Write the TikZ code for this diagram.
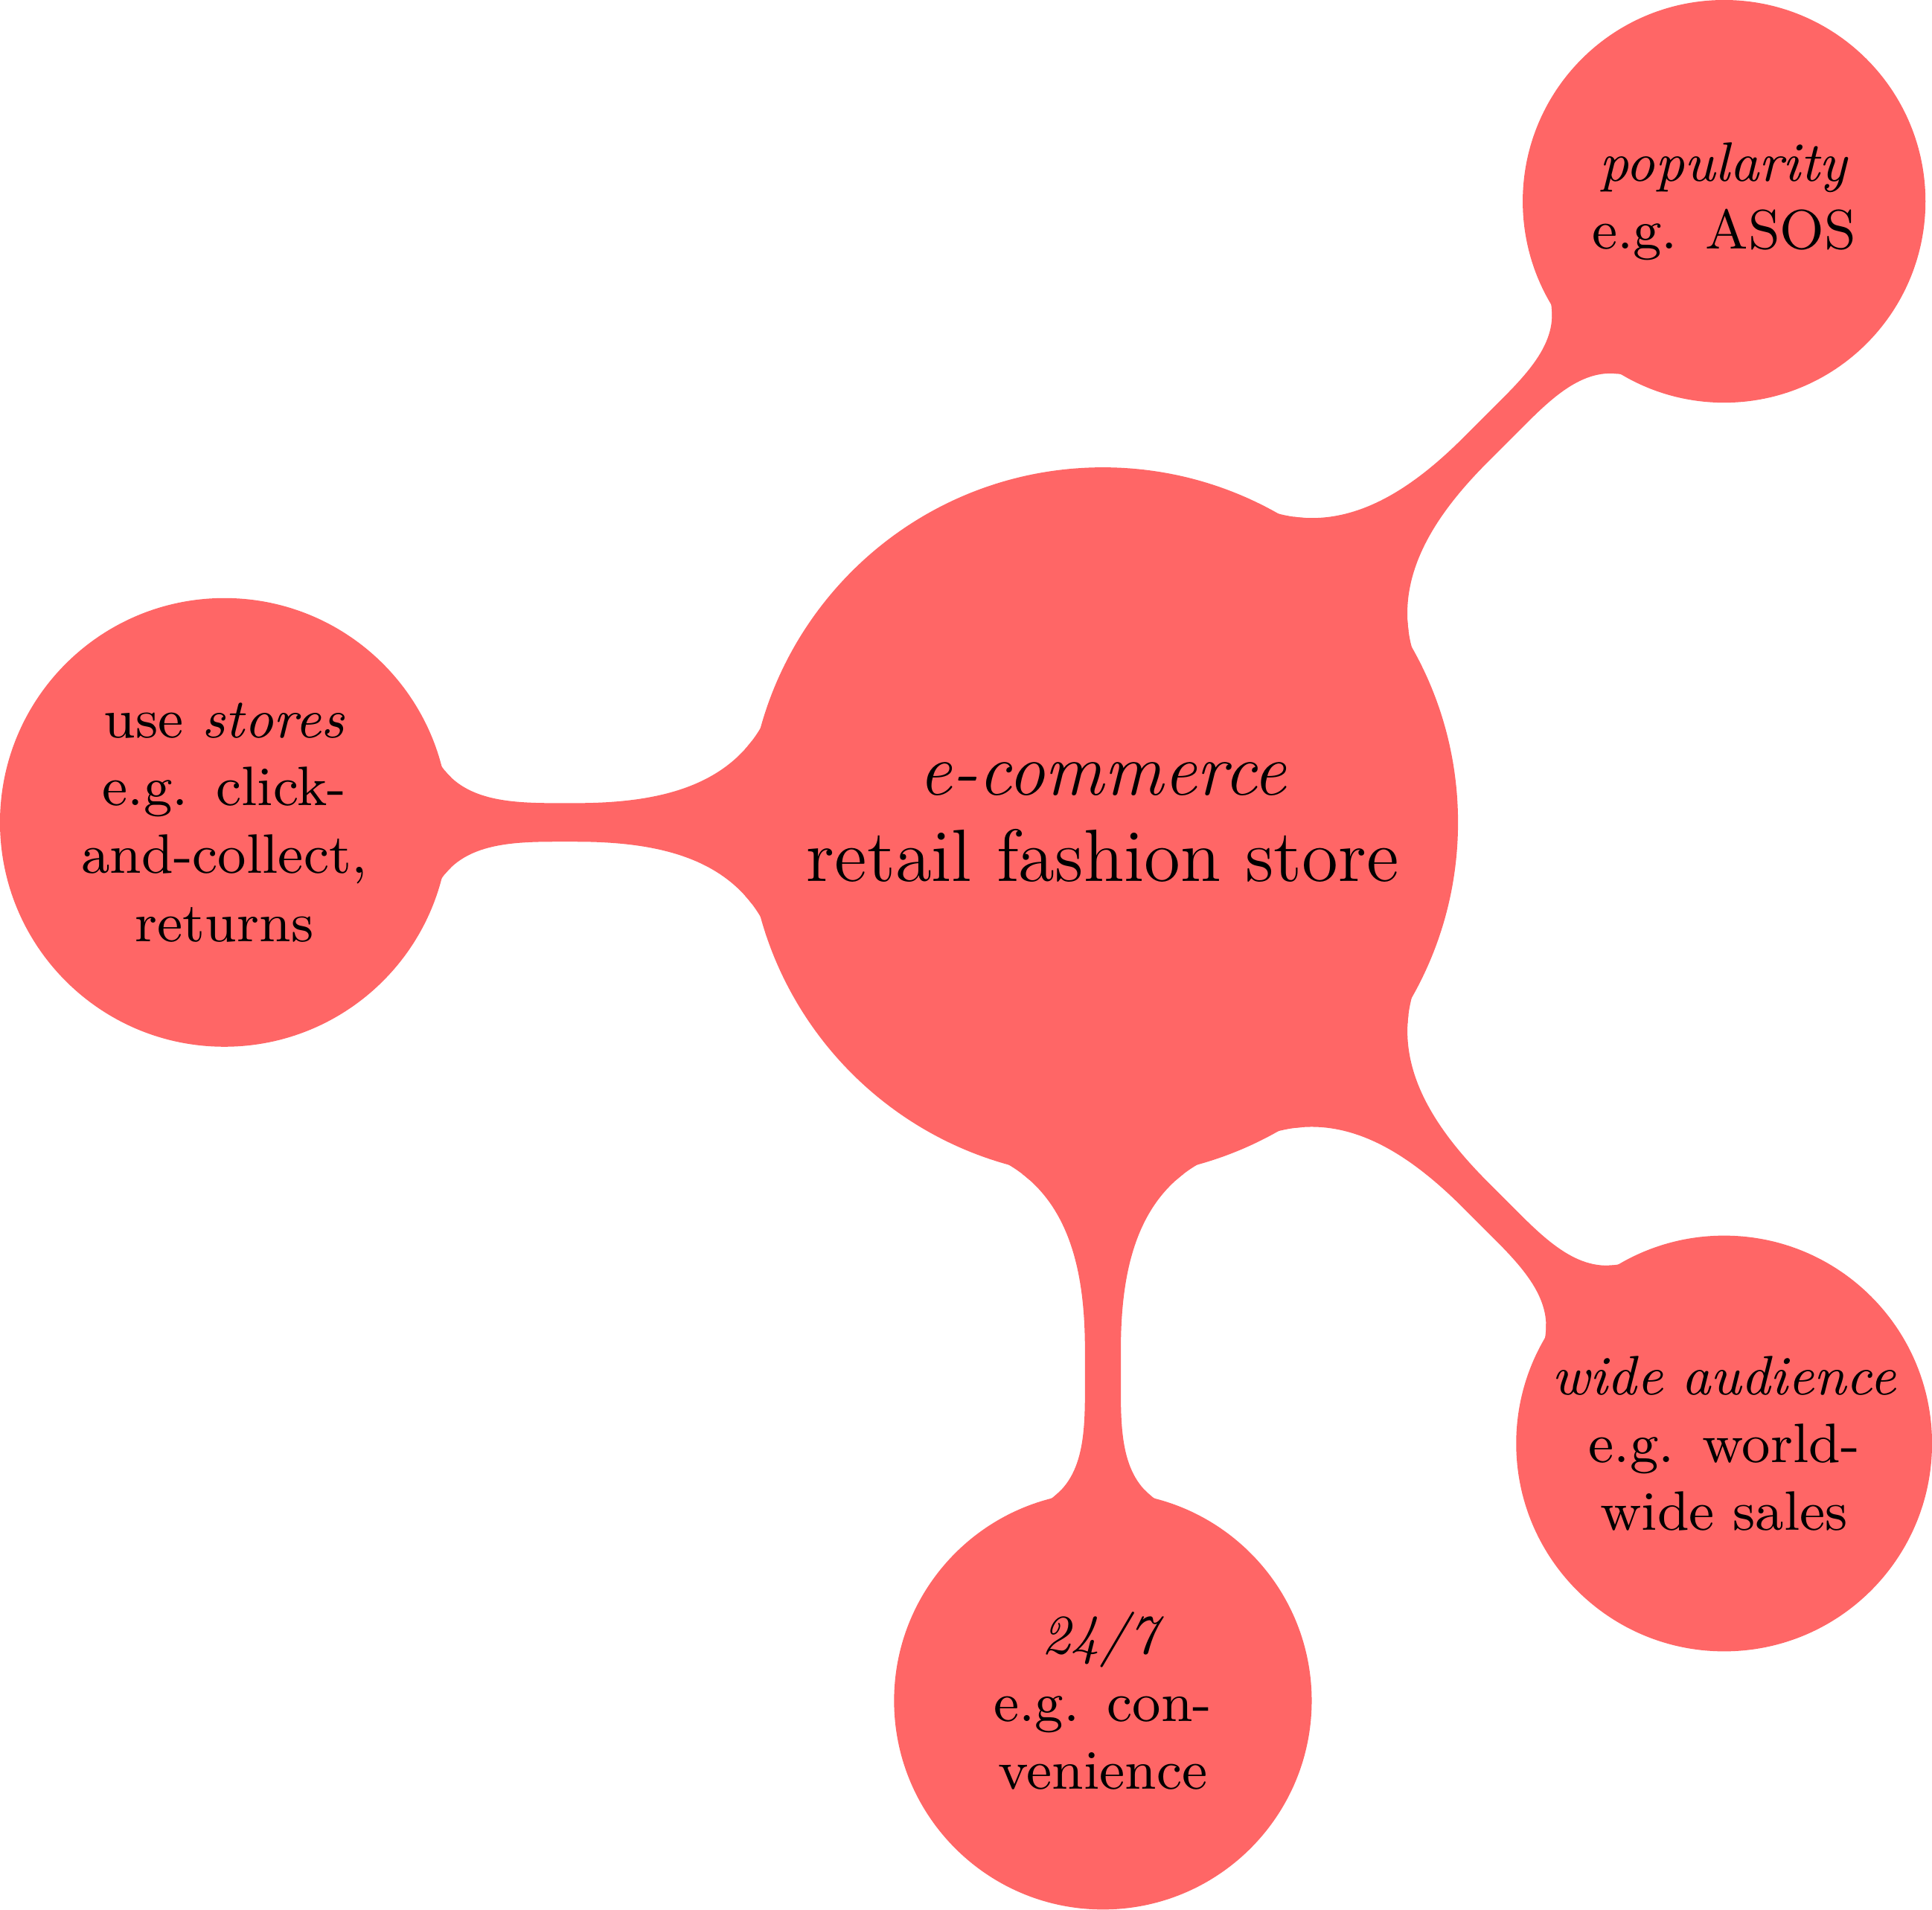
\documentclass[tikz,border=0pt]{standalone}
\usetikzlibrary{mindmap}
\begin{document}
\begin{tikzpicture}[mindmap,concept color=red!60]
    \node[concept] (root) at (0,0) {\emph{e-commerce}\\ retail fashion store};
    \begin{scope}[every node/.style={concept,level 1 concept}]
        \node (pop) at (45:5cm) {\emph{popularity}\\ e.g. ASOS};
        \node (stores) at (180:5cm) {use \emph{stores}\\ e.g. click-and-collect, returns};
        \node (allday) at (270:5cm) {\emph{24/7}\\ e.g. convenience};
        \node (wide) at (-45:5cm) {\emph{wide audience}\\ e.g. world-wide sales};
    \end{scope}
    \begin{scope}[every to/.style={circle connection bar switch color=from (red!60) to (red!60)}]
        \path (root) to (pop);
        \path (root) to (stores);
        \path (root) to (allday);
        \path (root) to (wide);
    \end{scope}
\end{tikzpicture}
\end{document}
